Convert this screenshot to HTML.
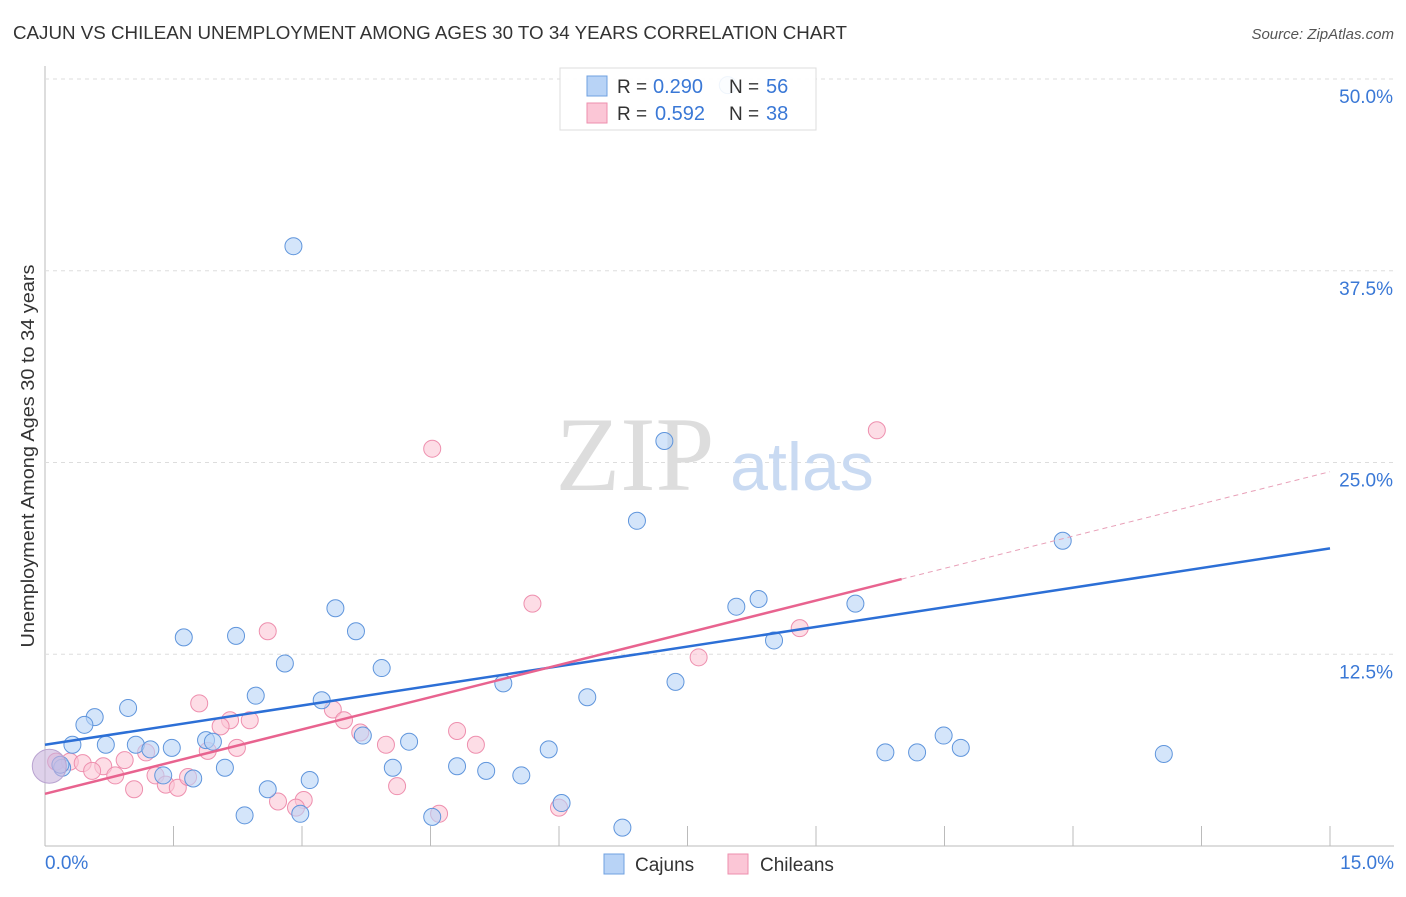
<!DOCTYPE html>
<html><head><meta charset="utf-8">
<style>
body{margin:0;background:#fff;font-family:"Liberation Sans",sans-serif;}
svg text{font-family:"Liberation Sans",sans-serif;}
</style></head>
<body>
<svg id="chart" width="1406" height="892" xmlns="http://www.w3.org/2000/svg">
<text x="13" y="39" font-size="18.6" fill="#333" textLength="834" lengthAdjust="spacingAndGlyphs">CAJUN VS CHILEAN UNEMPLOYMENT AMONG AGES 30 TO 34 YEARS CORRELATION CHART</text>
<text x="1394" y="39" font-size="15" fill="#555" text-anchor="end" font-style="italic">Source: ZipAtlas.com</text>
<g id="grid"></g>
<text x="635" y="490" font-size="106" fill="#ddd" text-anchor="middle" style="font-family:'Liberation Serif',serif">ZIP</text>
<text x="802" y="490" font-size="68" fill="#c9daf2" text-anchor="middle">atlas</text>
<g id="points"></g>
<g id="lines"></g>
<text transform="translate(34,456) rotate(-90)" font-size="18" fill="#333" text-anchor="middle" textLength="383" lengthAdjust="spacingAndGlyphs">Unemployment Among Ages 30 to 34 years</text>
<g>
<rect x="560" y="68" width="256" height="62" fill="#fff" fill-opacity="0.9" stroke="#ddd"/>
<rect x="587" y="76" width="20" height="20" fill="#b8d3f6" stroke="#6fa0e0"/>
<rect x="587" y="103" width="20" height="20" fill="#fbc6d6" stroke="#ee8fae"/>
<text x="617" y="93" font-size="19" fill="#333">R =</text>
<text x="653" y="93" font-size="20" fill="#3a78d6">0.290</text>
<text x="729" y="93" font-size="19" fill="#333">N =</text>
<text x="766" y="93" font-size="20" fill="#3a78d6">56</text>
<text x="617" y="120" font-size="19" fill="#333">R =</text>
<text x="655" y="120" font-size="20" fill="#3a78d6">0.592</text>
<text x="729" y="120" font-size="19" fill="#333">N =</text>
<text x="766" y="120" font-size="20" fill="#3a78d6">38</text>
</g>
<g>
<rect x="604" y="854" width="20" height="20" fill="#b8d3f6" stroke="#6fa0e0"/>
<text x="635" y="871" font-size="19" fill="#333">Cajuns</text>
<rect x="728" y="854" width="20" height="20" fill="#fbc6d6" stroke="#ee8fae"/>
<text x="760" y="871" font-size="19" fill="#333">Chileans</text>
</g>
</svg>
<script>
const yTicks=[0,12.5,25,37.5,50];
const yTickLabels=["","12.5%","25.0%","37.5%","50.0%"];
const xTicks=[0,1.5,3,4.5,6,7.5,9,10.5,12,13.5,15];
const xTickLabels=["0.0%","15.0%"];
const cajunX=[2.9,7.23,6.91,11.88,8.33,8.07,9.46,3.39,1.62,2.23,3.63,8.51,2.8,3.93,5.35,7.36,6.33,2.46,3.23,0.97,0.58,0.46,3.71,1.88,1.96,0.32,0.71,1.06,1.23,1.48,4.25,5.88,10.49,10.69,9.81,10.18,13.06,4.06,4.81,5.15,5.56,2.1,1.38,1.73,3.09,2.6,6.03,2.33,2.98,4.52,6.74,0.2,0.18,7.97];
const cajunY=[39.1,26.4,21.2,19.9,16.1,15.6,15.8,15.5,13.6,13.7,14.0,13.4,11.9,11.6,10.6,10.7,9.7,9.8,9.5,9.0,8.4,7.9,7.2,6.9,6.8,6.6,6.6,6.6,6.3,6.4,6.8,6.3,7.2,6.4,6.1,6.1,6.0,5.1,5.2,4.9,4.6,5.1,4.6,4.4,4.3,3.7,2.8,2.0,2.1,1.9,1.2,5.1,5.3,49.6];
const chileX=[4.52,9.71,5.69,2.6,8.81,7.63,1.8,3.36,2.16,2.39,2.05,3.49,4.81,3.68,5.03,3.98,2.24,1.9,1.18,0.13,0.29,0.44,0.68,0.93,0.55,0.82,1.29,1.41,1.55,1.67,1.04,4.11,2.72,3.02,2.93,4.6,6.0];
const chileY=[25.9,27.1,15.8,14.0,14.2,12.3,9.3,8.9,8.2,8.2,7.8,8.2,7.5,7.4,6.6,6.6,6.4,6.2,6.1,5.5,5.5,5.4,5.2,5.6,4.9,4.6,4.6,4.0,3.8,4.5,3.7,3.9,2.9,3.0,2.5,2.1,2.5];
const cajunTrend=[[0,6.6],[15,19.4]];
const chileTrend=[[0,3.4],[10,17.4],[15,24.4]];
const bigX=[0.05], bigY=[5.2];
const NS="http://www.w3.org/2000/svg";
const sx=v=>45+v*(1330-45)/15, sy=v=>846-v*(846-79)/50;
function mk(t,a,p){const e=document.createElementNS(NS,t);for(const k in a)e.setAttribute(k,a[k]);p.appendChild(e);return e;}
const grid=document.getElementById('grid');
mk('line',{x1:45,y1:66,x2:45,y2:846,stroke:'#bbb'},grid);
mk('line',{x1:45,y1:846,x2:1394,y2:846,stroke:'#bbb'},grid);
yTicks.forEach((t,i)=>{
 if(t>0){const l=mk('line',{x1:45,y1:sy(t),x2:1394,y2:sy(t),stroke:'#ddd','stroke-dasharray':'4,4'},grid);
 }
 const tx=mk('text',{x:1393,y:sy(t)+24,'font-size':19,fill:'#3a78d6','text-anchor':'end'},grid);tx.textContent=yTickLabels[i];
 
});
xTicks.forEach(t=>{if(t>0){const l=mk('line',{x1:sx(t),y1:826,x2:sx(t),y2:846,stroke:'#bbb'},grid);
 }});
[[0,xTickLabels[0],'start',45],[15,xTickLabels[1],'end',1394]].forEach(d=>{const tx=mk('text',{x:d[3],y:869,'font-size':19,fill:'#3a78d6','text-anchor':d[2]},grid);tx.textContent=d[1];
 });
const pts=document.getElementById('points');
chileX.forEach((x,i)=>{const c=mk('circle',{cx:sx(x),cy:sy(chileY[i]),r:8.5,fill:'#fbc6d6','fill-opacity':0.6,stroke:'#ee8fae','stroke-width':1},pts);
 });
cajunX.forEach((x,i)=>{const c=mk('circle',{cx:sx(x),cy:sy(cajunY[i]),r:8.5,fill:'#b8d3f6','fill-opacity':0.6,stroke:'#5f95dc','stroke-width':1},pts);
 });
bigX.forEach((x,i)=>{const c=mk('circle',{cx:sx(x),cy:sy(bigY[i]),r:17,fill:'#c8b3dc','fill-opacity':0.6,stroke:'#b9a3d0'},pts);
 });
const ln=document.getElementById('lines');
let l=mk('line',{x1:sx(cajunTrend[0][0]),y1:sy(cajunTrend[0][1]),x2:sx(cajunTrend[1][0]),y2:sy(cajunTrend[1][1]),stroke:'#2c6fd6','stroke-width':2.5},ln);

l=mk('line',{x1:sx(chileTrend[0][0]),y1:sy(chileTrend[0][1]),x2:sx(chileTrend[1][0]),y2:sy(chileTrend[1][1]),stroke:'#e8638f','stroke-width':2.5},ln);

l=mk('line',{x1:sx(chileTrend[1][0]),y1:sy(chileTrend[1][1]),x2:sx(chileTrend[2][0]),y2:sy(chileTrend[2][1]),stroke:'#e8a0b8','stroke-width':1,'stroke-dasharray':'5,4'},ln);

</script>
</body></html>
